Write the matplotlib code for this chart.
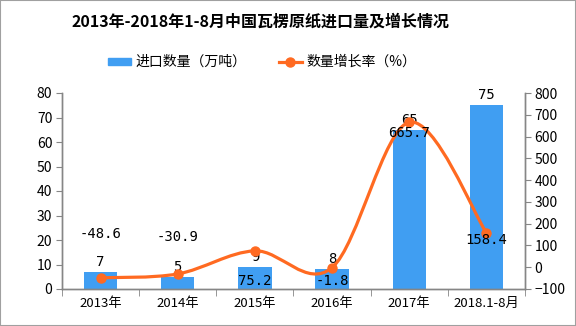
import matplotlib
matplotlib.use("Agg")
import matplotlib.pyplot as plt
from matplotlib.path import Path
from matplotlib.patches import PathPatch, Rectangle
from matplotlib.lines import Line2D
import numpy as np

plt.rcParams['font.family'] = ['Noto Sans CJK SC', 'DejaVu Sans']

categories = ["2013年", "2014年", "2015年", "2016年", "2017年", "2018.1-8月"]
volume = [7, 5, 9, 8, 65, 75]
growth = [-48.6, -30.9, 75.2, -1.8, 665.7, 158.4]
growth_labels = ["-48.6", "-30.9", "75.2", "-1.8", "665.7", "158.4"]

title = "2013年-2018年1-8月中国瓦楞原纸进口量及增长情况"
bar_name = "进口数量（万吨）"
line_name = "数量增长率（%）"

BLUE = "#409EF2"
ORANGE = "#FF6A21"
GRAY = "#868686"

fig = plt.figure(figsize=(5.76, 3.26), dpi=100)
fig.patch.set_facecolor("white")
fig.add_artist(Rectangle((0, 0), 1, 1, transform=fig.transFigure, fill=False,
                         edgecolor="#A0A0A0", linewidth=1.5))

ax = fig.add_axes([62/576, 1-289/326, (525-62)/576, (289-93)/326])
ax2 = ax.twinx()

x = np.arange(len(categories))
ax.bar(x, volume, width=0.43, color=BLUE, zorder=2)
ax.set_xlim(-0.5, len(categories) - 0.5)
ax.set_ylim(0, 80)
ax.set_yticks(np.arange(0, 81, 10))
ax2.set_ylim(-100, 800)
ax2.set_yticks(np.arange(-100, 801, 100))

# smooth line (Catmull-Rom via cubic Bezier)
pts = np.column_stack([x, growth]).astype(float)
verts = [tuple(pts[0])]
codes = [Path.MOVETO]
n = len(pts)
for i in range(n - 1):
    p0 = pts[i - 1] if i > 0 else pts[i]
    p1 = pts[i]
    p2 = pts[i + 1]
    p3 = pts[i + 2] if i + 2 < n else pts[i + 1]
    c1 = p1 + (p2 - p0) / 6.0
    c2 = p2 - (p3 - p1) / 6.0
    verts += [tuple(c1), tuple(c2), tuple(p2)]
    codes += [Path.CURVE4] * 3
ax2.add_patch(PathPatch(Path(verts, codes), facecolor="none", edgecolor=ORANGE,
                        linewidth=2.3, zorder=3, capstyle="round"))
ax2.plot(x, growth, linestyle="none", marker="o", markersize=6.5, color=ORANGE, zorder=4)

mono = "DejaVu Sans Mono"
for xi, v in zip(x, volume):
    ax.annotate(str(v), (xi, v), xytext=(0, 3), textcoords="offset pixels",
                ha="center", va="bottom", fontsize=10, family=mono, zorder=5)

label_offsets = [44, 37, -30, -13, -11, -7]
for xi, v, lab, off in zip(x, growth, growth_labels, label_offsets):
    ax2.annotate(lab, (xi, v), xytext=(0, off), textcoords="offset pixels",
                 ha="center", va="center", fontsize=10, family=mono, zorder=5)

ax.set_xticks(x)
ax.set_xticklabels(categories, fontsize=9.5)
ax.set_xticks(np.arange(-0.5, len(categories), 1.0), minor=True)
ax.tick_params(axis="x", which="major", length=0, pad=6)
ax.tick_params(axis="x", which="minor", length=5, color=GRAY, direction="out")
ax.tick_params(axis="y", length=4, color=GRAY, labelsize=10, pad=3)
ax2.tick_params(axis="y", length=4, color=GRAY, labelsize=10, pad=3)

for a in (ax, ax2):
    a.spines["top"].set_visible(False)
    for s in ("left", "right", "bottom"):
        a.spines[s].set_color(GRAY)
        a.spines[s].set_linewidth(1.0)
ax.patch.set_visible(False)
ax.set_zorder(1)
ax2.set_zorder(2)
ax2.patch.set_visible(False)

fig.text(261/576, 1 - 22/326, title, ha="center", va="center", fontsize=11.5, fontweight="bold")

handles = [Rectangle((0, 0), 1, 1, color=BLUE),
           Line2D([0], [0], color=ORANGE, linewidth=2.3, marker="o", markersize=6.5)]
fig.legend(handles, [bar_name, line_name], loc="center", bbox_to_anchor=(262/576, 1 - 62/326),
           ncol=2, frameon=False, fontsize=10, handlelength=1.7, handleheight=0.4,
           columnspacing=2.3, handletextpad=0.3)

fig.savefig("out.png", dpi=100)
